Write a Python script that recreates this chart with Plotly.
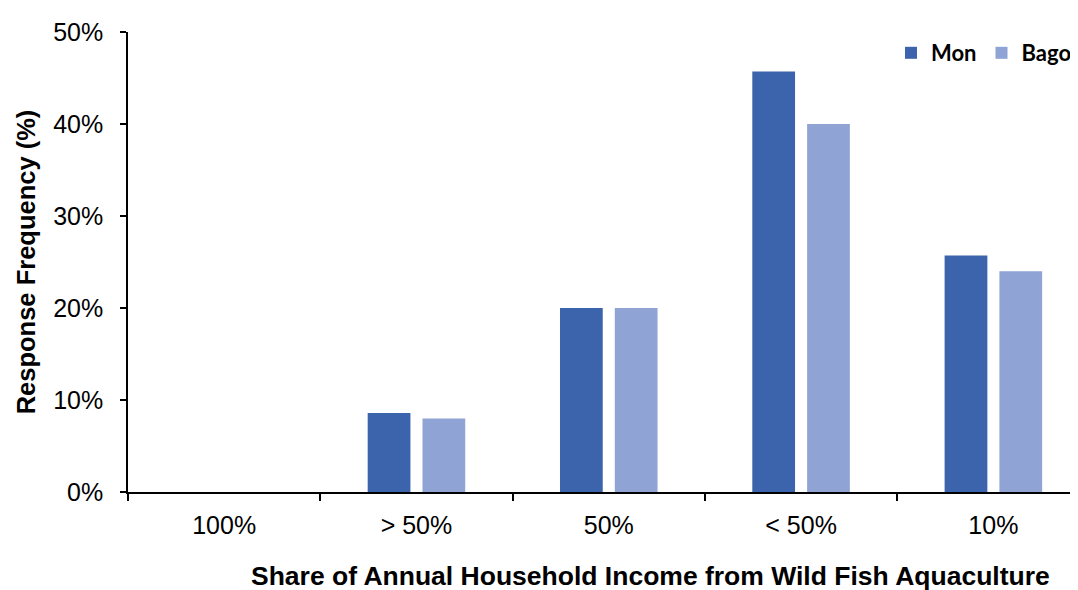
import plotly.graph_objects as go

categories = ["100%", "> 50%", "50%", "< 50%", "10%"]
mon = [0, 8.6, 20.0, 45.7, 25.7]
bago = [0, 8.0, 20.0, 40.0, 24.0]

# page body has an 8px margin, so the figure is offset by 8px
W, H = 1070, 582
L, T, B = 120, 24, 98
plot_w = W - L
plot_h = H - T - B

fig = go.Figure()
fig.add_trace(go.Bar(name="Mon", x=categories, y=mon, marker_color="#3C64AC",
                     marker_line_width=0))
fig.add_trace(go.Bar(name="Bago", x=categories, y=bago, marker_color="#8FA4D4",
                     marker_line_width=0))

fig.update_layout(
    width=W, height=H,
    margin=dict(l=L, r=0, t=T, b=B, autoexpand=False),
    plot_bgcolor="white", paper_bgcolor="white",
    barmode="group", bargap=0.43, bargroupgap=0.22,
    font=dict(family="Liberation Sans, Arial, sans-serif", size=25, color="#000"),
    legend=dict(orientation="h", x=(891 - 8 - L) / plot_w, xanchor="left",
                y=1.0, yanchor="top",
                font=dict(family="Lato, Open Sans, sans-serif", size=22, color="#000",
                          weight="bold"),
                itemwidth=30, bgcolor="rgba(0,0,0,0)", tracegroupgap=0),
    showlegend=True,
)
fig.update_xaxes(
    type="category", range=[-0.5, 4.44],
    showline=True, linecolor="#000", linewidth=1.5,
    ticks="outside", tickson="boundaries", ticklen=7, tickwidth=1.5, tickcolor="#000",
    ticklabelstandoff=10,
    showgrid=False, zeroline=False,
)
fig.update_yaxes(
    range=[0, 50], dtick=10, ticksuffix="%",
    showline=True, linecolor="#000", linewidth=1.5,
    ticks="outside", ticklen=6, tickwidth=1.5, tickcolor="#000",
    ticklabelstandoff=12,
    showgrid=False, zeroline=False,
    title=dict(text="<b>Response Frequency (%)</b>", font=dict(size=25.5), standoff=10),
)
fig.add_annotation(
    text="<b>Share of Annual Household Income from Wild Fish Aquaculture</b>",
    xref="paper", yref="paper", x=(642 - L) / plot_w, y=-(568 - (H - B)) / plot_h,
    xanchor="center", yanchor="middle", showarrow=False,
    font=dict(size=26.5, color="#000"),
)

fig.write_html("out.html")
